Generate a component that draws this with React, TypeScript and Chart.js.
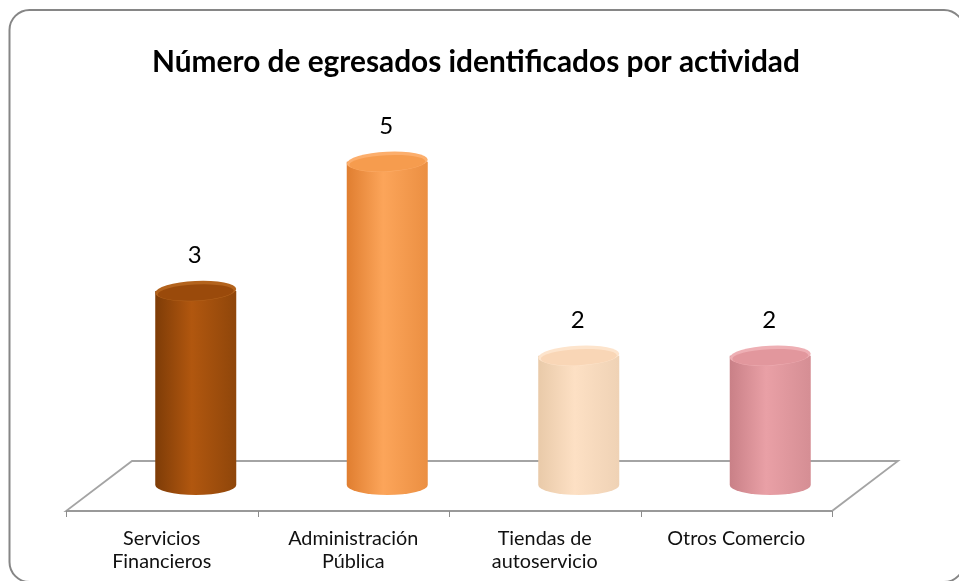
import React, { useEffect, useRef } from "react";
import { Chart, registerables } from "chart.js";

Chart.register(...registerables);

const TITLE = "Número de egresados identificados por actividad";
const CATEGORIES: string[][] = [
  ["Servicios", "Financieros"],
  ["Administración", "Pública"],
  ["Tiendas de", "autoservicio"],
  ["Otros Comercio"],
];
const VALUES: number[] = [3, 5, 2, 2];
const Y_MAX = 6;

// styles (kept apart from data)
const CYL_LEFT = ["#7e3c07", "#e07e30", "#e9caa9", "#c98087"];
const CYL_MID = ["#b1570f", "#fca55a", "#fde0c4", "#e9a0a6"];
const CYL_RIGHT = ["#8f460a", "#eb8f42", "#efd2b5", "#d58e94"];
const CYL_TOP = ["#9a4a0b", "#f69c4e", "#f9d6b6", "#e2979d"];
const CYL_RIM = ["#b3631d", "#fcae6c", "#fde4cc", "#eeafb4"];

const FONT = "Lato, 'Open Sans', sans-serif";

function roundRect(ctx: CanvasRenderingContext2D, x: number, y: number, w: number, h: number, r: number) {
  ctx.beginPath();
  ctx.moveTo(x + r, y);
  ctx.lineTo(x + w - r, y);
  ctx.arcTo(x + w, y, x + w, y + r, r);
  ctx.lineTo(x + w, y + h - r);
  ctx.arcTo(x + w, y + h, x + w - r, y + h, r);
  ctx.lineTo(x + r, y + h);
  ctx.arcTo(x, y + h, x, y + h - r, r);
  ctx.lineTo(x, y + r);
  ctx.arcTo(x, y, x + r, y, r);
  ctx.closePath();
}

function fitFont(ctx: CanvasRenderingContext2D, text: string, weight: string, target: number) {
  ctx.font = `${weight} 100px ${FONT}`;
  const w = ctx.measureText(text).width;
  return (100 * target) / w;
}

const DEPTH_X = 66;
const DEPTH_Y = 50;

const cylinderPlugin = {
  id: "cyl3d",
  beforeDraw(chart: any) {
    const { ctx, width, height } = chart;
    ctx.save();
    ctx.fillStyle = "#ffffff";
    ctx.fillRect(0, 0, width, height);
    roundRect(ctx, 9.5, 10, 964 - 9.5, 582 - 10, 20);
    ctx.strokeStyle = "#868686";
    ctx.lineWidth = 2;
    ctx.stroke();
    ctx.restore();
  },
  beforeDatasetsDraw(chart: any) {
    const { ctx, chartArea } = chart;
    const xs = chart.scales.x;
    const base = chartArea.bottom;
    const fy = base + DEPTH_Y / 2 + 1;
    const by = fy - DEPTH_Y;
    const L = chartArea.left;
    const R = chartArea.right;
    ctx.save();
    // floor
    ctx.beginPath();
    ctx.moveTo(L, fy);
    ctx.lineTo(R, fy);
    ctx.lineTo(R + DEPTH_X, by);
    ctx.lineTo(L + DEPTH_X, by);
    ctx.closePath();
    ctx.fillStyle = "#ffffff";
    ctx.fill();
    ctx.strokeStyle = "#a4a4a4";
    ctx.lineWidth = 1.8;
    ctx.stroke();
    ctx.beginPath();
    ctx.moveTo(L, fy);
    ctx.lineTo(R, fy);
    ctx.strokeStyle = "#999999";
    ctx.lineWidth = 2.2;
    ctx.stroke();
    // ticks
    const n = CATEGORIES.length;
    const step = (R - L) / n;
    ctx.beginPath();
    for (let i = 0; i <= n; i++) {
      const x = Math.round(L + i * step) + 0.5;
      ctx.moveTo(x, fy);
      ctx.lineTo(x, fy + 6);
    }
    ctx.strokeStyle = "#8c8c8c";
    ctx.lineWidth = 1;
    ctx.stroke();
    // category labels
    ctx.fillStyle = "#111111";
    ctx.textAlign = "center";
    ctx.textBaseline = "alphabetic";
    const catSize = fitFont(ctx, "Otros Comercio", "normal", 138);
    ctx.font = `normal ${catSize}px ${FONT}`;
    CATEGORIES.forEach((lines, i) => {
      const cx = xs.getPixelForValue(i);
      lines.forEach((t, j) => {
        ctx.fillText(t, cx, fy + 34 + j * 23);
      });
    });
    ctx.restore();
  },
  afterDatasetsDraw(chart: any) {
    const { ctx } = chart;
    const meta = chart.getDatasetMeta(0);
    ctx.save();
    meta.data.forEach((bar: any, i: number) => {
      const p = bar.getProps(["x", "y", "base", "width"], true);
      const cx = p.x + DEPTH_X / 2 + 1;
      const r = p.width / 2;
      const ry = 10;
      const topY = p.y;
      const baseY = p.base;
      // body
      const g = ctx.createLinearGradient(cx - r, 0, cx + r, 0);
      g.addColorStop(0, CYL_LEFT[i]);
      g.addColorStop(0.45, CYL_MID[i]);
      g.addColorStop(1, CYL_RIGHT[i]);
      ctx.beginPath();
      ctx.moveTo(cx - r, topY);
      ctx.lineTo(cx - r, baseY);
      ctx.ellipse(cx, baseY, r, ry, 0, Math.PI, 0, true);
      ctx.lineTo(cx + r, topY);
      ctx.closePath();
      ctx.fillStyle = g;
      ctx.fill();
      // top
      ctx.beginPath();
      ctx.ellipse(cx, topY, r, ry, -0.05, 0, Math.PI * 2);
      ctx.fillStyle = CYL_RIM[i];
      ctx.fill();
      ctx.beginPath();
      ctx.ellipse(cx, topY + 1.5, r - 2.5, ry - 2, -0.05, 0, Math.PI * 2);
      ctx.fillStyle = CYL_TOP[i];
      ctx.fill();
      // value label
      ctx.fillStyle = "#000000";
      ctx.font = `normal 24px ${FONT}`;
      ctx.textAlign = "center";
      ctx.textBaseline = "alphabetic";
      ctx.fillText(String(VALUES[i]), cx - 1, topY - ry - 18);
    });
    ctx.restore();
  },
  afterDraw(chart: any) {
    const { ctx } = chart;
    ctx.save();
    const size = fitFont(ctx, TITLE, "bold", 648);
    ctx.font = `bold ${size}px ${FONT}`;
    ctx.fillStyle = "#000000";
    ctx.textAlign = "center";
    ctx.textBaseline = "alphabetic";
    ctx.fillText(TITLE, 476, 72);
    ctx.restore();
  },
};

export default function App() {
  const ref = useRef<HTMLCanvasElement | null>(null);
  useEffect(() => {
    if (!ref.current) return;
    const chart = new Chart(ref.current, {
      type: "bar",
      data: {
        labels: CATEGORIES,
        datasets: [
          {
            data: VALUES,
            backgroundColor: "rgba(0,0,0,0)",
            borderWidth: 0,
            barPercentage: 0.423,
            categoryPercentage: 1,
          },
        ],
      },
      options: {
        animation: false,
        responsive: true,
        maintainAspectRatio: false,
        layout: { padding: { left: 66, right: 127, top: 97, bottom: 96 } },
        plugins: {
          legend: { display: false },
          title: { display: false },
          tooltip: { enabled: false },
        },
        scales: {
          x: { display: false },
          y: { display: false, min: 0, max: Y_MAX },
        },
      },
      plugins: [cylinderPlugin],
    });
    return () => chart.destroy();
  }, []);
  return (
    <div style={{ position: "fixed", left: 0, top: 0, width: 959, height: 581, background: "#fff" }}>
      <canvas ref={ref} />
    </div>
  );
}
